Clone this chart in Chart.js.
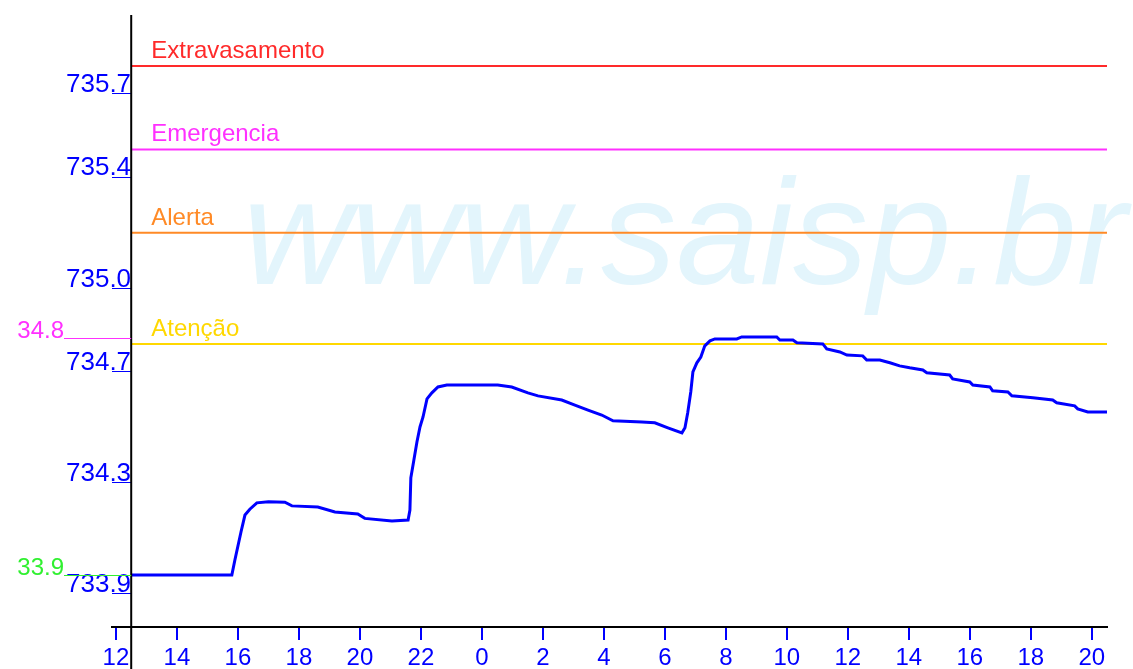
<!DOCTYPE html>
<html>
<head>
<meta charset="utf-8">
<script src="https://cdn.jsdelivr.net/npm/chart.js@4.4.1/dist/chart.umd.min.js"></script>
<style>
  html, body { margin: 0; padding: 0; background: #fff; }
</style>
</head>
<body>
<canvas id="myChart" width="1133" height="669"></canvas>
<script>
// horas contadas desde 0h do primeiro dia (36 = 12h do dia seguinte)
var hours = [
  12.5, 15.8, 15.9, 16.1, 16.23, 16.39, 16.62, 17.0, 17.54, 17.77, 18.62, 19.18, 19.93, 20.16, 21.05, 21.58,
  21.64, 21.67, 21.77, 21.87, 21.97, 22.07, 22.2, 22.36, 22.56, 22.85, 24.52, 24.98, 25.51, 25.84, 26.62,
  27.05, 27.48, 27.93, 28.3, 29.25, 29.67, 30.1, 30.56, 30.66, 30.75, 30.85, 30.92, 31.05, 31.18, 31.31,
  31.48, 31.64, 32.36, 32.52, 33.67, 33.77, 34.2, 34.33, 35.18, 35.31, 35.74, 35.97, 36.49, 36.62, 37.05,
  37.38, 37.7, 38.03, 38.46, 38.59, 39.34, 39.44, 40.0, 40.1, 40.66, 40.75, 41.25, 41.38, 42.07, 42.72,
  42.85, 43.44, 43.54, 43.87, 44.5
];
// cota do reservatório (m)
var levels = [
  733.968, 733.968, 734.022, 734.123, 734.184, 734.205, 734.228, 734.232, 734.230, 734.217, 734.213, 734.195, 734.188, 734.172, 734.163, 734.166,
  734.202, 734.318, 734.382, 734.447, 734.501, 734.537, 734.602, 734.624, 734.645, 734.652, 734.652, 734.645, 734.624, 734.613, 734.598,
  734.580, 734.562, 734.544, 734.523, 734.519, 734.516, 734.498, 734.480, 734.498, 734.552, 734.627, 734.699, 734.732, 734.753, 734.793,
  734.811, 734.818, 734.818, 734.825, 734.825, 734.814, 734.814, 734.804, 734.800, 734.782, 734.771, 734.760, 734.757, 734.742, 734.742,
  734.732, 734.721, 734.714, 734.706, 734.696, 734.688, 734.674, 734.663, 734.652, 734.645, 734.631, 734.627, 734.613, 734.606, 734.598,
  734.588, 734.577, 734.566, 734.555, 734.555
];

var tickHours = [12, 14, 16, 18, 20, 22, 24, 26, 28, 30, 32, 34, 36, 38, 40, 42, 44];
var tickLabels = ['12', '14', '16', '18', '20', '22', '0', '2', '4', '6', '8', '10', '12', '14', '16', '18', '20'];

var yTickValues = [733.9, 734.3, 734.7, 735.0, 735.4, 735.7];
var yTickLabels = ['733.9', '734.3', '734.7', '735.0', '735.4', '735.7'];

// cotas de referência
var limitNames = ['Extravasamento', 'Emergencia', 'Alerta', 'Atenção'];
var limitValues = [735.8, 735.5, 735.2, 734.8];
var limitColors = ['#ff2a2a', '#ff30ff', '#ff8a26', '#ffd800'];

// máxima e valor inicial
var markerLabels = ['34.8', '33.9'];
var markerValues = [734.82, 733.968];
var markerColors = ['#ff30ff', '#30f030'];

var FONT = '"Liberation Sans", Arial, sans-serif';

var datasets = [{
  label: 'Cota',
  data: hours.map(function (h, i) { return { x: h, y: levels[i] }; }),
  borderColor: '#0000ff',
  borderWidth: 3,
  pointRadius: 0,
  tension: 0
}];
limitNames.forEach(function (name, i) {
  datasets.push({
    label: name,
    data: [{ x: hours[0], y: limitValues[i] }, { x: hours[hours.length - 1], y: limitValues[i] }],
    borderColor: limitColors[i],
    borderWidth: 2,
    pointRadius: 0
  });
});

// desenha marca d'água, eixo vertical e rótulos das cotas
var extras = {
  id: 'extras',
  beforeDraw: function (chart) {
    var ctx = chart.ctx;
    ctx.save();
    ctx.fillStyle = '#fff';
    ctx.fillRect(0, 0, chart.width, chart.height);
    ctx.fillStyle = '#e3f5fc';
    ctx.font = 'italic 150px ' + FONT;
    ctx.textBaseline = 'alphabetic';
    ctx.fillText('www.saisp.br', 243, 284);
    ctx.restore();
  },
  afterDraw: function (chart) {
    var ctx = chart.ctx;
    var xs = chart.scales.x, ys = chart.scales.y;
    var x0 = xs.getPixelForValue(hours[0]);
    ctx.save();
    ctx.strokeStyle = '#000';
    ctx.lineWidth = 2;
    ctx.beginPath();
    ctx.moveTo(x0, chart.chartArea.top);
    ctx.lineTo(x0, chart.height);
    ctx.stroke();

    ctx.font = '24px ' + FONT;
    ctx.textBaseline = 'alphabetic';
    ctx.textAlign = 'left';
    limitNames.forEach(function (name, i) {
      ctx.fillStyle = limitColors[i];
      ctx.fillText(name, x0 + 20, ys.getPixelForValue(limitValues[i]) - 8);
    });

    ctx.textAlign = 'right';
    markerLabels.forEach(function (lab, i) {
      var y = Math.round(ys.getPixelForValue(markerValues[i])) + 0.5;
      ctx.fillStyle = markerColors[i];
      ctx.fillText(lab, 64, y - 1);
      ctx.strokeStyle = markerColors[i];
      ctx.lineWidth = 1;
      ctx.beginPath();
      ctx.moveTo(64, y);
      ctx.lineTo(x0, y);
      ctx.stroke();
    });
    ctx.restore();
  }
};

var ctx = document.getElementById('myChart').getContext('2d');
var myChart = new Chart(ctx, {
  type: 'line',
  data: { datasets: datasets },
  options: {
    responsive: false,
    animation: false,
    layout: { padding: { left: 0, right: 26, top: 15, bottom: 0 } },
    plugins: { legend: { display: false }, tooltip: { enabled: false } },
    scales: {
      x: {
        type: 'linear',
        min: 11.87,
        max: 44.5,
        afterFit: function (s) { s.height = 42; },
        afterBuildTicks: function (s) { s.ticks = tickHours.map(function (v) { return { value: v }; }); },
        border: { color: '#000', width: 2 },
        grid: { drawOnChartArea: false, tickLength: 13, color: '#0000ff', lineWidth: 2 },
        ticks: {
          autoSkip: false,
          maxRotation: 0,
          padding: 4,
          color: '#0000ff',
          font: { family: FONT, size: 24 },
          callback: function (v, i) { return tickLabels[i]; }
        }
      },
      y: {
        type: 'linear',
        min: 733.781,
        max: 735.984,
        afterFit: function (s) { s.width = 112; },
        afterBuildTicks: function (s) { s.ticks = yTickValues.map(function (v) { return { value: v }; }); },
        border: { display: false },
        grid: { drawOnChartArea: false, tickLength: -19, color: '#0000ff', lineWidth: 1 },
        ticks: {
          mirror: true,
          padding: -46,
          labelOffset: -9,
          color: '#0000ff',
          font: { family: FONT, size: 26 },
          callback: function (v, i) { return yTickLabels[i]; }
        }
      }
    }
  },
  plugins: [extras]
});
</script>
</body>
</html>
